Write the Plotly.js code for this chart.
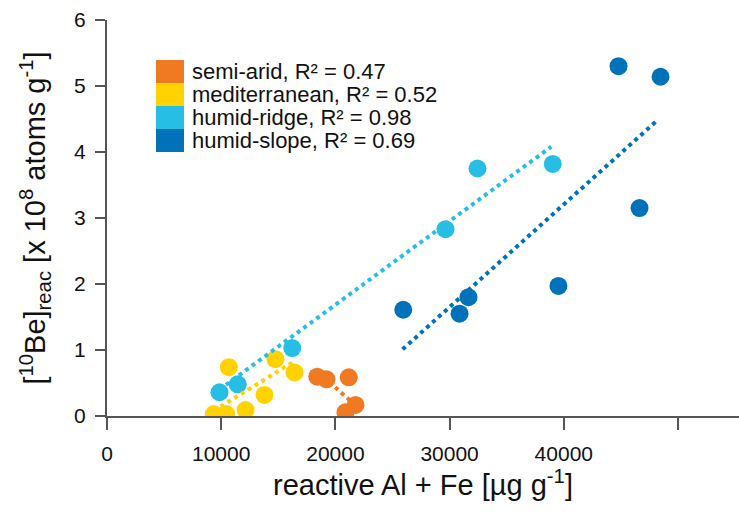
<!DOCTYPE html>
<html>
<head>
<meta charset="utf-8">
<script src="https://cdn.plot.ly/plotly-3.0.1.min.js"></script>
<style>html,body{margin:0;padding:0;background:#fff;}#chart{width:739px;height:522px;}</style>
</head>
<body>
<div id="chart"></div>
<script>
// ---- data ----
const seriesNames = ["semi-arid", "mediterranean", "humid-ridge", "humid-slope"];
const rSquared = ["0.47", "0.52", "0.98", "0.69"];
const colors = ["#F07A22", "#FFD200", "#27BEE6", "#0072BA"];

const semiAridX = [18410, 19220, 21170, 20880, 21760];
const semiAridY = [0.595, 0.556, 0.586, 0.056, 0.167];
const mediterraneanX = [10670, 9350, 10440, 12130, 13790, 14750, 16420];
const mediterraneanY = [0.74, 0.03, 0.03, 0.09, 0.32, 0.86, 0.66];
const humidRidgeX = [9850, 11450, 16220, 29640, 32440, 39030];
const humidRidgeY = [0.36, 0.48, 1.03, 2.83, 3.75, 3.82];
const humidSlopeX = [25940, 30870, 31650, 39530, 46630, 44790, 48470];
const humidSlopeY = [1.61, 1.55, 1.80, 1.97, 3.15, 5.30, 5.14];

// trend-line end points
const semiAridFitX = [18410, 21760];
const semiAridFitY = [0.68, 0.16];
const mediterraneanFitX = [9350, 16420];
const mediterraneanFitY = [0.08, 0.83];
const humidRidgeFitX = [9850, 38900];
const humidRidgeFitY = [0.40, 4.08];
const humidSlopeFitX = [25880, 48060];
const humidSlopeFitY = [1.01, 4.46];

const xTickVals = [0, 10000, 20000, 30000, 40000, 50000];
const xTickText = ["0", "10000", "20000", "30000", "40000", ""];
const yTickVals = [0, 1, 2, 3, 4, 5, 6];

// ---- build ----
const pointsX = [semiAridX, mediterraneanX, humidRidgeX, humidSlopeX];
const pointsY = [semiAridY, mediterraneanY, humidRidgeY, humidSlopeY];
const fitsX = [semiAridFitX, mediterraneanFitX, humidRidgeFitX, humidSlopeFitX];
const fitsY = [semiAridFitY, mediterraneanFitY, humidRidgeFitY, humidSlopeFitY];

const FONT = "Liberation Sans, Arial, sans-serif";
const traces = [];
for (let i = 0; i < 4; i++) {
  traces.push({
    type: "scatter", mode: "markers", name: seriesNames[i],
    x: pointsX[i], y: pointsY[i],
    marker: {size: 18, color: colors[i], line: {width: 0}},
    showlegend: false, hoverinfo: "x+y"
  });
}
for (let i = 0; i < 4; i++) {
  traces.push({
    type: "scatter", mode: "lines", name: seriesNames[i] + " fit",
    x: fitsX[i], y: fitsY[i],
    line: {color: colors[i], width: 4, dash: "4px,4px"},
    showlegend: false, hoverinfo: "skip"
  });
}

// custom legend (contiguous colour blocks + labels)
const L = 107, W = 632, T = 20, H = 396;
const px2x = p => (p - L) / W;
const px2y = p => (T + H - p) / H;
const shapes = [], annotations = [];
const rowTop = 60, rowH = 23;
for (let i = 0; i < 4; i++) {
  const y0 = rowTop + i * rowH, y1 = y0 + rowH;
  shapes.push({type: "rect", xref: "paper", yref: "paper",
    x0: px2x(156), x1: px2x(184), y0: px2y(y1), y1: px2y(y0),
    fillcolor: colors[i], line: {width: 0}});
  annotations.push({xref: "paper", yref: "paper", x: px2x(190), y: px2y((y0 + y1) / 2),
    xanchor: "left", yanchor: "middle", showarrow: false,
    text: seriesNames[i] + ", R\u00B2 = " + rSquared[i],
    font: {family: FONT, size: 22, color: "#111"}});
}

const axisCommon = {
  showline: true, linecolor: "#555", linewidth: 2,
  ticks: "outside", tickcolor: "#555", tickwidth: 2,
  showgrid: false, zeroline: false,
  tickfont: {family: FONT, size: 21, color: "#111"}
};

const layout = {
  width: 739, height: 522,
  margin: {l: L, r: 0, t: T, b: 522 - T - H},
  paper_bgcolor: "#fff", plot_bgcolor: "#fff",
  xaxis: Object.assign({}, axisCommon, {
    range: [0, 55340], tickmode: "array", tickvals: xTickVals, ticktext: xTickText,
    ticklen: 12, ticklabelstandoff: 6,
    title: {text: "reactive Al + Fe [µg g<sup>-1</sup>]", font: {family: FONT, size: 29, color: "#111"}, standoff: 7}
  }),
  yaxis: Object.assign({}, axisCommon, {
    range: [0, 6], tickmode: "array", tickvals: yTickVals,
    ticklen: 10, ticklabelstandoff: 5,
    title: {text: "[<sup>10</sup>Be]<sub>reac</sub> [x 10<sup>8</sup> atoms g<sup>-1</sup>]", font: {family: FONT, size: 29, color: "#111"}, standoff: 20}
  }),
  shapes: shapes, annotations: annotations,
  showlegend: false
};

Plotly.newPlot("chart", traces, layout, {displayModeBar: false, staticPlot: true});
</script>
</body>
</html>
